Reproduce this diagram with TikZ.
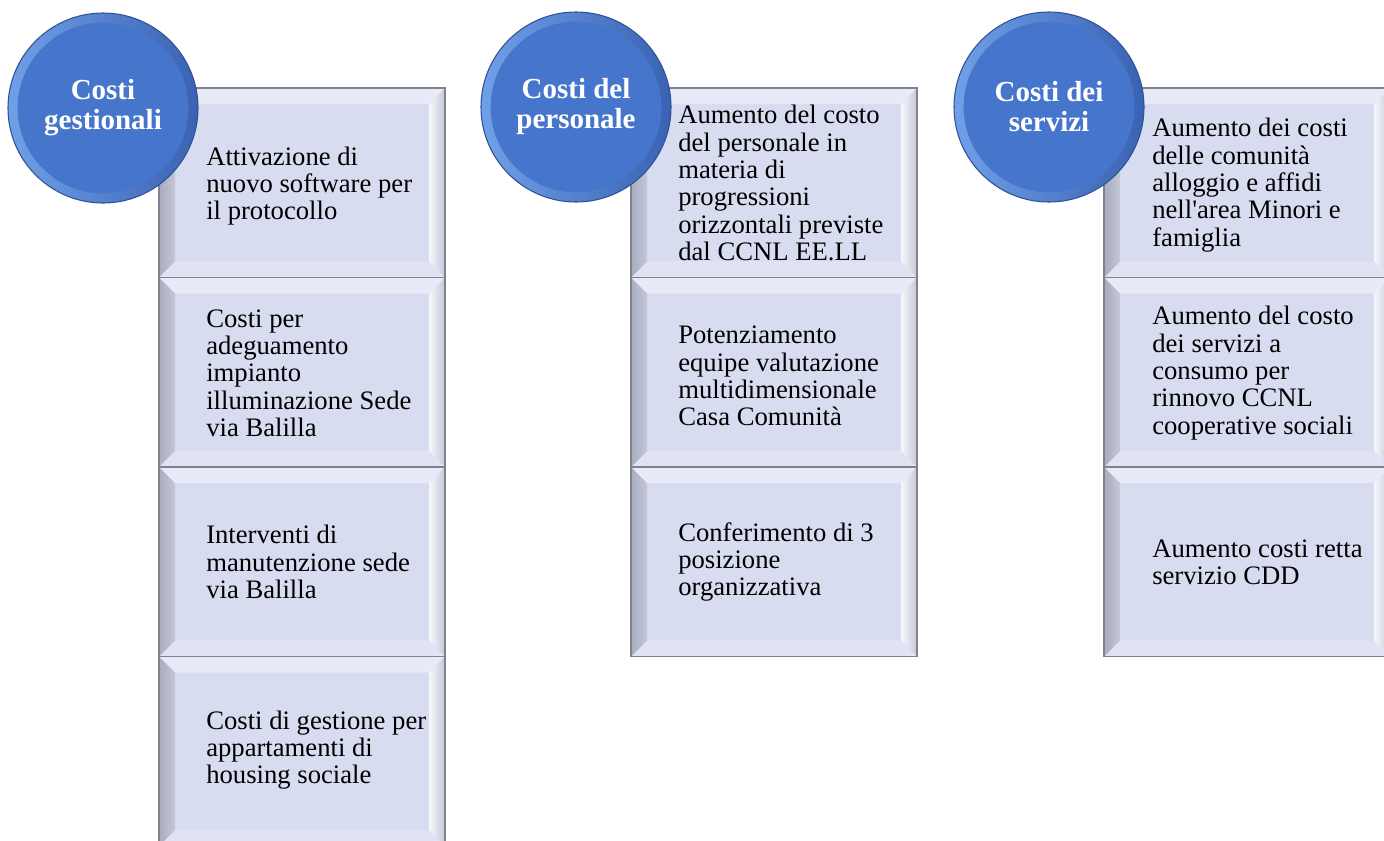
\documentclass[tikz,border=0pt]{standalone}
\usepackage{fontspec}
\setmainfont{Liberation Serif}[Ligatures=TeXOff]
\usepackage{tikz}
\usetikzlibrary{shapes,positioning}
\definecolor{boxface}{RGB}{216,220,240}
\definecolor{boxedge}{RGB}{128,130,140}
\definecolor{bevellight}{RGB}{232,234,247}
\definecolor{bevelbottom}{RGB}{224,227,243}
\definecolor{beveldark}{RGB}{168,172,190}
\definecolor{bevelmid}{RGB}{196,199,216}
\definecolor{headface}{RGB}{70,118,204}
\definecolor{headrimlight}{RGB}{112,160,232}
\definecolor{headrimdark}{RGB}{58,98,178}
\definecolor{headedge}{RGB}{46,82,150}

\tikzset{
  costbox/.style={rectangle, draw=boxedge, line width=0.9pt, fill=boxface,
    minimum width=214.5pt, minimum height=142.1pt, inner sep=0pt,
    path picture={
      \fill[bevellight] (path picture bounding box.north west) -- (path picture bounding box.north east)
        -- ([shift={(-12pt,-12pt)}]path picture bounding box.north east) -- ([shift={(12pt,-12pt)}]path picture bounding box.north west) -- cycle;
      \fill[bevelbottom] (path picture bounding box.south west) -- (path picture bounding box.south east)
        -- ([shift={(-12pt,12pt)}]path picture bounding box.south east) -- ([shift={(12pt,12pt)}]path picture bounding box.south west) -- cycle;
      \shade[left color=beveldark, right color=bevelmid] (path picture bounding box.north west) -- ([shift={(12pt,-12pt)}]path picture bounding box.north west)
        -- ([shift={(12pt,12pt)}]path picture bounding box.south west) -- (path picture bounding box.south west) -- cycle;
      \shade[left color=white!80!boxface, right color=bevelmid] (path picture bounding box.north east) -- ([shift={(-12pt,-12pt)}]path picture bounding box.north east)
        -- ([shift={(-12pt,12pt)}]path picture bounding box.south east) -- (path picture bounding box.south east) -- cycle;
    }},
  costtext/.style={anchor=west, inner sep=0pt, align=left, font=\fontsize{20}{20.5}\selectfont},
  costhead/.style={circle, minimum size=142.5pt, inner sep=0pt, draw=headedge, line width=0.8pt,
    left color=headrimlight, right color=headrimdark, text=white, align=center,
    font=\bfseries\fontsize{21.75}{22.5}\selectfont,
    path picture={\fill[headface] (path picture bounding box.center) circle (64pt);}}
}

\begin{document}
\begin{tikzpicture}[x=0.75pt,y=-0.75pt]
    \path[use as bounding box] (0,0) rectangle (1384,840);
    \clip (0,0) rectangle (1384,840);

    % Costi gestionali
    \node[costbox] (gest1) at (302,182.75) {};
    \node[costbox] (gest2) at (302,372.25) {};
    \node[costbox] (gest3) at (302,561.75) {};
    \node[costbox] (gest4) at (302,751.25) {};
    \node[costtext] (gest1t) at (206,186) {Attivazione di\\nuovo software per\\il protocollo};
    \node[costtext] (gest2t) at (206,373) {Costi per\\adeguamento\\impianto\\illuminazione Sede\\via Balilla};
    \node[costtext] (gest3t) at (206,562) {Interventi di\\manutenzione sede\\via Balilla};
    \node[costtext] (gest4t) at (206,750) {Costi di gestione per\\appartamenti di\\housing sociale};

    % Costi del personale
    \node[costbox] (pers1) at (774,182.75) {};
    \node[costbox] (pers2) at (774,372.25) {};
    \node[costbox] (pers3) at (774,561.75) {};
    \node[costtext] (pers1t) at (678,183) {Aumento del costo\\del personale in\\materia di\\progressioni\\orizzontali previste\\dal CCNL EE.LL};
    \node[costtext] (pers2t) at (678,376) {Potenziamento\\equipe valutazione\\multidimensionale\\Casa Comunità};
    \node[costtext] (pers3t) at (678,562) {Conferimento di 3\\posizione\\organizzativa};

    % Costi dei servizi
    \node[costbox] (serv1) at (1247,182.75) {};
    \node[costbox] (serv2) at (1247,372.25) {};
    \node[costbox] (serv3) at (1247,561.75) {};
    \node[costtext] (serv1t) at (1152,185) {Aumento dei costi\\delle comunità\\alloggio e affidi\\nell'area Minori e\\famiglia};
    \node[costtext] (serv2t) at (1152,373) {Aumento del costo\\dei servizi a\\consumo per\\rinnovo CCNL\\cooperative sociali};
    \node[costtext] (serv3t) at (1152,562) {Aumento costi retta\\servizio CDD};

    % Heads
    \node[costhead] (gest) at (103,108) {Costi\\gestionali};
    \node[costhead] (pers) at (576,107) {Costi del\\personale};
    \node[costhead] (serv) at (1049,107) {Costi dei\\servizi};
\end{tikzpicture}
\end{document}
